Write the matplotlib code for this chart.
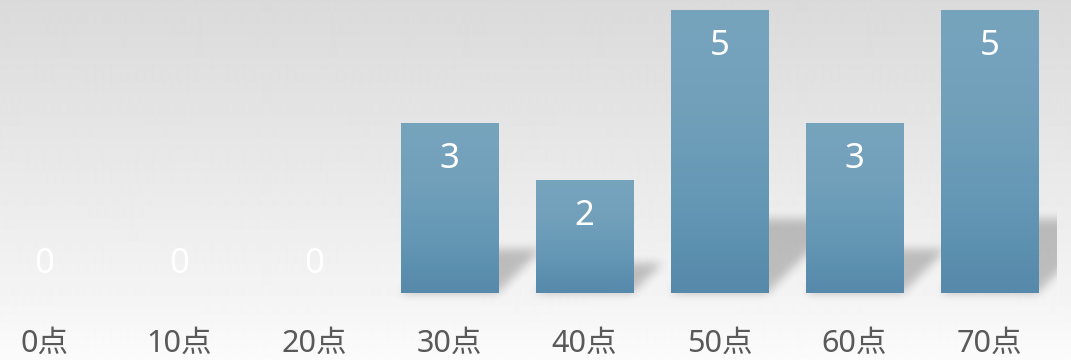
import numpy as np
import matplotlib
matplotlib.use('Agg')
import matplotlib.pyplot as plt
from matplotlib.colors import LinearSegmentedColormap

plt.rcParams['font.family'] = ['Noto Sans', 'Noto Sans CJK SC', 'DejaVu Sans']

categories = ['0点', '10点', '20点', '30点', '40点', '50点', '60点', '70点']
counts = [0, 0, 0, 3, 2, 5, 3, 5]

X_MIN, X_MAX = -0.3296, 7.604
Y_MIN, Y_MAX = -1.184, 5.177
BAR_W = 0.72
W_PX, H_PX = 1071, 360


def box_blur(img, r):
    # separable box blur, applied twice for a softer edge
    k = np.ones(2 * r + 1) / (2 * r + 1)
    for _ in range(2):
        img = np.apply_along_axis(lambda m: np.convolve(m, k, mode='same'), 0, img)
        img = np.apply_along_axis(lambda m: np.convolve(m, k, mode='same'), 1, img)
    return img


fig = plt.figure(figsize=(W_PX / 100, H_PX / 100), dpi=100)
ax = fig.add_axes([0, 0, 1, 1])
ax.set_xlim(X_MIN, X_MAX)
ax.set_ylim(Y_MIN, Y_MAX)
ax.axis('off')

# background: grey at the top fading to near white at the floor
ys = np.linspace(Y_MAX, Y_MIN, H_PX)
bg = np.interp(ys, [Y_MIN, 0, Y_MAX], [0.985, 0.955, 0.855])
bg_img = np.repeat(bg[:, None], 2, axis=1)
ax.imshow(bg_img, cmap='gray', vmin=0, vmax=1, aspect='auto',
          extent=[X_MIN, X_MAX, Y_MIN, Y_MAX], zorder=0, interpolation='bilinear')

# soft shadows cast back and to the right of each bar
gx = np.linspace(X_MIN, X_MAX, W_PX)
gy = np.linspace(Y_MAX, Y_MIN, H_PX)
XX, YY = np.meshgrid(gx, gy)
mask = np.zeros_like(XX)
skew = 56.6 / 135.0
for i, v in enumerate(counts):
    if v <= 0:
        continue
    sh = 0.26 * v
    inside = (YY >= 0) & (YY <= sh)
    left = i - BAR_W / 2 + skew * YY
    right = i + BAR_W / 2 + skew * YY
    mask[inside & (XX >= left) & (XX <= right)] = 1.0
mask = box_blur(mask, 5)
mask[:, XX[0] > (1058 - 44.5) / 135.0] = 0
shadow = np.zeros((H_PX, W_PX, 4))
shadow[..., 3] = 0.22 * mask
ax.imshow(shadow, aspect='auto', extent=[X_MIN, X_MAX, Y_MIN, Y_MAX], zorder=1)

# bars with a vertical blue gradient
bar_cmap = LinearSegmentedColormap.from_list(
    'bar', ['#5689aa', '#6498b5', '#72a0bb', '#77a4bd'])
grad = np.linspace(0, 1, 256)[:, None]
x = np.arange(len(categories))
bars = ax.bar(x, counts, width=BAR_W, color='none', edgecolor='none', zorder=2)
for b, v in zip(bars, counts):
    if v <= 0:
        continue
    x0, y0 = b.get_x(), b.get_y()
    im = ax.imshow(grad, cmap=bar_cmap, aspect='auto', origin='lower',
                   extent=[x0, x0 + b.get_width(), y0, y0 + b.get_height()],
                   zorder=3)
    im.set_clip_path(b)

# value labels inside the bars
for xi, v in zip(x, counts):
    off = -36 if v > 0 else 29
    ax.annotate(str(v), (xi, v), xytext=(0, off), textcoords='offset pixels',
                ha='center', va='center', color='white', fontsize=25, zorder=4)

# category labels under the floor
for xi, name in zip(x, categories):
    ax.text(xi, -0.9, name, ha='center', va='center', color='#595959',
            fontsize=22, zorder=4)

fig.savefig('out.png', dpi=100)
